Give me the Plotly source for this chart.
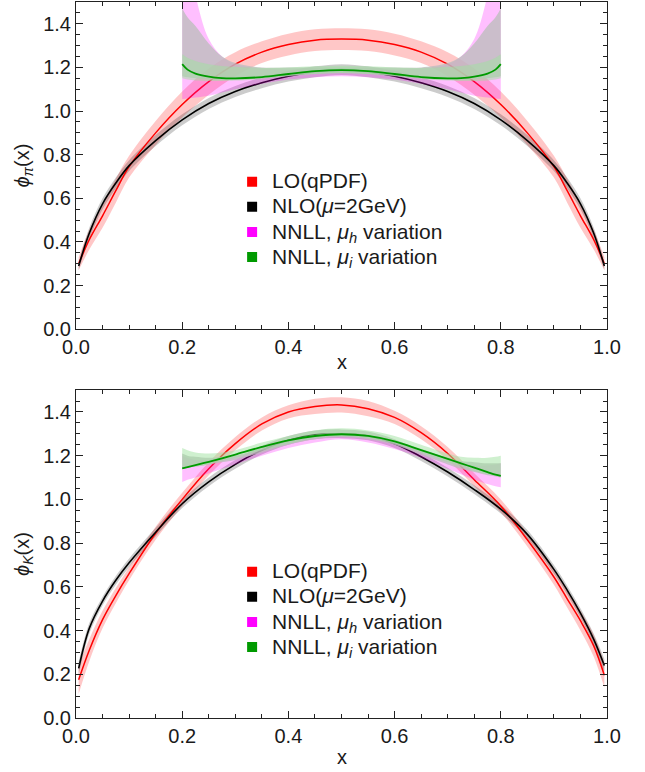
import plotly.graph_objects as go

# ---------------- data ----------------
x_main = [0.005, 0.025, 0.05, 0.075, 0.1, 0.15, 0.2, 0.25, 0.3, 0.35, 0.4, 0.45, 0.5,
          0.55, 0.6, 0.65, 0.7, 0.75, 0.8, 0.85, 0.9, 0.925, 0.95, 0.975, 0.995]
x_nnll = [0.2, 0.21, 0.225, 0.25, 0.275, 0.3, 0.35, 0.4, 0.45, 0.5,
          0.55, 0.6, 0.65, 0.7, 0.725, 0.75, 0.775, 0.79, 0.8]
x_ticks = [0.0, 0.2, 0.4, 0.6, 0.8, 1.0]
y_ticks = [0.0, 0.2, 0.4, 0.6, 0.8, 1.0, 1.2, 1.4]

# pion
pi_lo = [0.30, 0.41, 0.52, 0.635, 0.745, 0.90, 1.03, 1.135, 1.215, 1.27, 1.305, 1.325, 1.33,
         1.325, 1.305, 1.27, 1.215, 1.135, 1.03, 0.90, 0.745, 0.635, 0.52, 0.41, 0.30]
pi_lo_lower = [0.27, 0.365, 0.465, 0.58, 0.695, 0.845, 0.97, 1.075, 1.16, 1.22, 1.255, 1.275, 1.28,
               1.275, 1.255, 1.22, 1.16, 1.075, 0.97, 0.845, 0.695, 0.58, 0.465, 0.365, 0.27]
pi_lo_upper = [0.33, 0.455, 0.575, 0.69, 0.795, 0.955, 1.09, 1.195, 1.27, 1.32, 1.355, 1.375, 1.38,
               1.375, 1.355, 1.32, 1.27, 1.195, 1.09, 0.955, 0.795, 0.69, 0.575, 0.455, 0.33]
pi_nlo = [0.29, 0.44, 0.575, 0.67, 0.75, 0.865, 0.96, 1.035, 1.09, 1.13, 1.16, 1.18, 1.19,
          1.18, 1.16, 1.13, 1.09, 1.035, 0.96, 0.865, 0.75, 0.67, 0.575, 0.44, 0.29]
pi_nlo_lower = [0.27, 0.415, 0.55, 0.645, 0.725, 0.84, 0.935, 1.01, 1.065, 1.105, 1.135, 1.155, 1.165,
                1.155, 1.135, 1.105, 1.065, 1.01, 0.935, 0.84, 0.725, 0.645, 0.55, 0.415, 0.27]
pi_nlo_upper = [0.31, 0.465, 0.60, 0.695, 0.775, 0.89, 0.985, 1.06, 1.115, 1.155, 1.185, 1.205, 1.215,
                1.205, 1.185, 1.155, 1.115, 1.06, 0.985, 0.89, 0.775, 0.695, 0.60, 0.465, 0.31]
pi_mh_upper = [1.9, 1.7, 1.53, 1.33, 1.25, 1.215, 1.195, 1.19, 1.19, 1.19,
               1.19, 1.19, 1.195, 1.215, 1.25, 1.33, 1.53, 1.7, 1.9]
pi_mh_lower = [1.055, 1.058, 1.062, 1.07, 1.085, 1.1, 1.125, 1.145, 1.155, 1.16,
               1.155, 1.145, 1.125, 1.1, 1.085, 1.07, 1.062, 1.058, 1.055]
pi_gray_upper = [1.47, 1.43, 1.39, 1.31, 1.25, 1.22, 1.2, 1.2, 1.2, 1.2,
                 1.2, 1.2, 1.2, 1.22, 1.25, 1.31, 1.39, 1.43, 1.47]
pi_gray_lower = [1.16, 1.155, 1.15, 1.145, 1.143, 1.143, 1.15, 1.162, 1.17, 1.173,
                 1.17, 1.162, 1.15, 1.143, 1.143, 1.145, 1.15, 1.155, 1.16]
pi_mi_upper = [1.26, 1.245, 1.23, 1.215, 1.207, 1.203, 1.198, 1.2, 1.205, 1.208,
               1.205, 1.2, 1.198, 1.203, 1.207, 1.215, 1.23, 1.245, 1.26]
pi_mi_lower = [1.15, 1.145, 1.14, 1.138, 1.138, 1.14, 1.147, 1.16, 1.17, 1.175,
               1.17, 1.16, 1.147, 1.14, 1.138, 1.138, 1.14, 1.145, 1.15]
pi_mi = [1.215, 1.19, 1.172, 1.158, 1.151, 1.15, 1.156, 1.17, 1.183, 1.188,
         1.183, 1.17, 1.156, 1.15, 1.151, 1.158, 1.172, 1.19, 1.215]

# kaon
k_lo = [0.175, 0.31, 0.45, 0.56, 0.66, 0.845, 1.0, 1.14, 1.255, 1.345, 1.40, 1.425, 1.432,
        1.415, 1.375, 1.305, 1.21, 1.09, 0.97, 0.815, 0.645, 0.545, 0.445, 0.33, 0.196]
k_lo_lower = [0.11, 0.26, 0.41, 0.525, 0.63, 0.815, 0.97, 1.11, 1.225, 1.315, 1.37, 1.39, 1.397,
              1.38, 1.345, 1.275, 1.18, 1.06, 0.94, 0.785, 0.61, 0.505, 0.40, 0.28, 0.139]
k_lo_upper = [0.24, 0.36, 0.49, 0.595, 0.69, 0.875, 1.03, 1.17, 1.285, 1.375, 1.43, 1.46, 1.467,
              1.45, 1.405, 1.335, 1.24, 1.12, 1.0, 0.845, 0.68, 0.585, 0.49, 0.38, 0.253]
k_nlo = [0.227, 0.41, 0.535, 0.63, 0.71, 0.85, 0.98, 1.08, 1.16, 1.225, 1.27, 1.295, 1.30,
         1.29, 1.255, 1.195, 1.125, 1.045, 0.955, 0.84, 0.68, 0.585, 0.48, 0.36, 0.24]
k_nlo_lower = [0.197, 0.385, 0.515, 0.61, 0.69, 0.83, 0.96, 1.06, 1.14, 1.205, 1.25, 1.275, 1.28,
               1.27, 1.235, 1.175, 1.105, 1.025, 0.935, 0.82, 0.66, 0.565, 0.458, 0.335, 0.21]
k_nlo_upper = [0.257, 0.435, 0.555, 0.65, 0.73, 0.87, 1.00, 1.10, 1.18, 1.245, 1.29, 1.315, 1.32,
               1.31, 1.275, 1.215, 1.145, 1.065, 0.975, 0.86, 0.70, 0.605, 0.502, 0.385, 0.27]
k_mh_upper = [1.2, 1.19, 1.18, 1.18, 1.19, 1.2, 1.23, 1.265, 1.29, 1.3,
              1.29, 1.26, 1.22, 1.18, 1.165, 1.155, 1.155, 1.16, 1.165]
k_mh_lower = [1.08, 1.09, 1.1, 1.12, 1.14, 1.16, 1.2, 1.235, 1.26, 1.275,
              1.26, 1.23, 1.19, 1.14, 1.115, 1.09, 1.07, 1.06, 1.055]
k_gray_upper = [1.21, 1.2, 1.195, 1.19, 1.195, 1.2, 1.235, 1.27, 1.295, 1.305,
                1.295, 1.27, 1.23, 1.19, 1.175, 1.17, 1.165, 1.165, 1.165]
k_gray_lower = [1.14, 1.145, 1.15, 1.16, 1.17, 1.18, 1.215, 1.25, 1.275, 1.285,
                1.275, 1.25, 1.205, 1.16, 1.14, 1.125, 1.11, 1.105, 1.1]
k_mi_upper = [1.235, 1.225, 1.215, 1.21, 1.215, 1.225, 1.26, 1.29, 1.315, 1.325,
              1.315, 1.29, 1.25, 1.21, 1.195, 1.19, 1.19, 1.195, 1.2]
k_mi_lower = [1.14, 1.145, 1.15, 1.16, 1.175, 1.19, 1.225, 1.255, 1.28, 1.29,
              1.28, 1.255, 1.215, 1.17, 1.15, 1.13, 1.115, 1.11, 1.105]
k_mi = [1.142, 1.148, 1.157, 1.172, 1.188, 1.205, 1.24, 1.27, 1.29, 1.298,
        1.29, 1.265, 1.225, 1.185, 1.165, 1.145, 1.125, 1.113, 1.107]

legend_names = ["LO(qPDF)", "NLO(<i>μ</i>=2GeV)",
                "NNLL, <i>μ</i><sub><i>h</i></sub> variation",
                "NNLL, <i>μ</i><sub><i>i</i></sub> variation"]
legend_colors = ["#ff0000", "#000000", "#ff00ff", "#009a00"]

# ---------------- styles ----------------
RED_BAND = "rgba(255,0,0,0.22)"
BLACK_BAND = "rgba(0,0,0,0.2)"
MAG_BAND = "rgba(255,0,255,0.25)"
GRAY_BAND = "rgba(190,190,190,0.8)"
GREEN_BAND = "rgba(160,225,160,0.5)"
FONT = "Liberation Sans, Arial, sans-serif"
TXT = "#1a1a1a"

fig = go.Figure()


def band(x, lo, hi, color, xa, ya):
    fig.add_trace(go.Scatter(x=x, y=lo, mode="lines", line=dict(width=0, shape="spline"),
                             showlegend=False, hoverinfo="skip", xaxis=xa, yaxis=ya))
    fig.add_trace(go.Scatter(x=x, y=hi, mode="lines", line=dict(width=0, shape="spline"),
                             fill="tonexty", fillcolor=color, showlegend=False,
                             hoverinfo="skip", xaxis=xa, yaxis=ya))


def line(x, y, color, width, xa, ya):
    fig.add_trace(go.Scatter(x=x, y=y, mode="lines",
                             line=dict(color=color, width=width, shape="spline"),
                             showlegend=False, xaxis=xa, yaxis=ya))


panels = [
    ("x", "y", "legend", pi_lo, pi_lo_lower, pi_lo_upper, pi_nlo, pi_nlo_lower, pi_nlo_upper,
     pi_mh_lower, pi_mh_upper, pi_gray_lower, pi_gray_upper, pi_mi_lower, pi_mi_upper, pi_mi),
    ("x2", "y2", "legend2", k_lo, k_lo_lower, k_lo_upper, k_nlo, k_nlo_lower, k_nlo_upper,
     k_mh_lower, k_mh_upper, k_gray_lower, k_gray_upper, k_mi_lower, k_mi_upper, k_mi),
]

for (xa, ya, leg, lo, lo_l, lo_u, nlo, nlo_l, nlo_u,
     mh_l, mh_u, g_l, g_u, mi_l, mi_u, mi) in panels:
    band(x_main, lo_l, lo_u, RED_BAND, xa, ya)
    band(x_main, nlo_l, nlo_u, BLACK_BAND, xa, ya)
    line(x_main, lo, "#ff0000", 1.5, xa, ya)
    line(x_main, nlo, "#000000", 1.6, xa, ya)
    band(x_nnll, mh_l, mh_u, MAG_BAND, xa, ya)
    band(x_nnll, g_l, g_u, GRAY_BAND, xa, ya)
    band(x_nnll, mi_l, mi_u, GREEN_BAND, xa, ya)
    line(x_nnll, mi, "#009a00", 1.8, xa, ya)
    for name, col in zip(legend_names, legend_colors):
        fig.add_trace(go.Scatter(x=[None], y=[None], mode="markers",
                                 name='<span style="font-size:21px">' + name + "</span>",
                                 marker=dict(symbol="square", size=10, color=col),
                                 legend=leg, xaxis=xa, yaxis=ya))

axis_common = dict(
    showline=True, linecolor="#222", linewidth=1, mirror="ticks",
    ticks="inside", ticklen=7, tickwidth=1, tickcolor="#222",
    showgrid=False, zeroline=False, automargin=False,
    tickfont=dict(family=FONT, size=20, color=TXT),
    minor=dict(ticks="inside", ticklen=4, tickwidth=1, tickcolor="#222", dtick=0.05),
)

fig.update_layout(
    width=645, height=772,
    margin=dict(l=76, r=38, t=2, b=54),
    paper_bgcolor="white", plot_bgcolor="white",
    font=dict(family=FONT, size=20, color=TXT),
    xaxis=dict(domain=[0, 1], anchor="y", range=[0, 1], tickvals=x_ticks, tickformat=".1f",
               **axis_common),
    yaxis=dict(domain=[0.543, 1], anchor="x", range=[0, 1.5], tickvals=y_ticks, tickformat=".1f",
               title=dict(text="<i>ϕ</i><sub><i>π</i></sub>(x)", standoff=8,
                          font=dict(size=20, color=TXT)),
               **axis_common),
    xaxis2=dict(domain=[0, 1], anchor="y2", range=[0, 1], tickvals=x_ticks, tickformat=".1f",
                **axis_common),
    yaxis2=dict(domain=[0, 0.458], anchor="x2", range=[0, 1.5], tickvals=y_ticks, tickformat=".1f",
                title=dict(text="<i>ϕ</i><sub><i>K</i></sub>(x)", standoff=8,
                           font=dict(size=20, color=TXT)),
                **axis_common),
    legend=dict(x=0.294, y=0.7735, xanchor="left", yanchor="top", bgcolor="rgba(0,0,0,0)",
                font=dict(family=FONT, size=17, color=TXT), itemwidth=30,
                tracegroupgap=0, traceorder="normal"),
    legend2=dict(x=0.294, y=0.2288, xanchor="left", yanchor="top", bgcolor="rgba(0,0,0,0)",
                 font=dict(family=FONT, size=17, color=TXT), itemwidth=30,
                 tracegroupgap=0, traceorder="normal"),
    annotations=[
        dict(text="x", x=0.5, y=0.497, xref="paper", yref="paper", showarrow=False,
             xanchor="center", yanchor="middle", font=dict(family=FONT, size=20, color=TXT)),
        dict(text="x", x=0.5, y=-0.0545, xref="paper", yref="paper", showarrow=False,
             xanchor="center", yanchor="middle", font=dict(family=FONT, size=20, color=TXT)),
    ],
)

fig.write_html("out.html", config={"displayModeBar": False},
               post_script="document.body.style.margin='0px';")
